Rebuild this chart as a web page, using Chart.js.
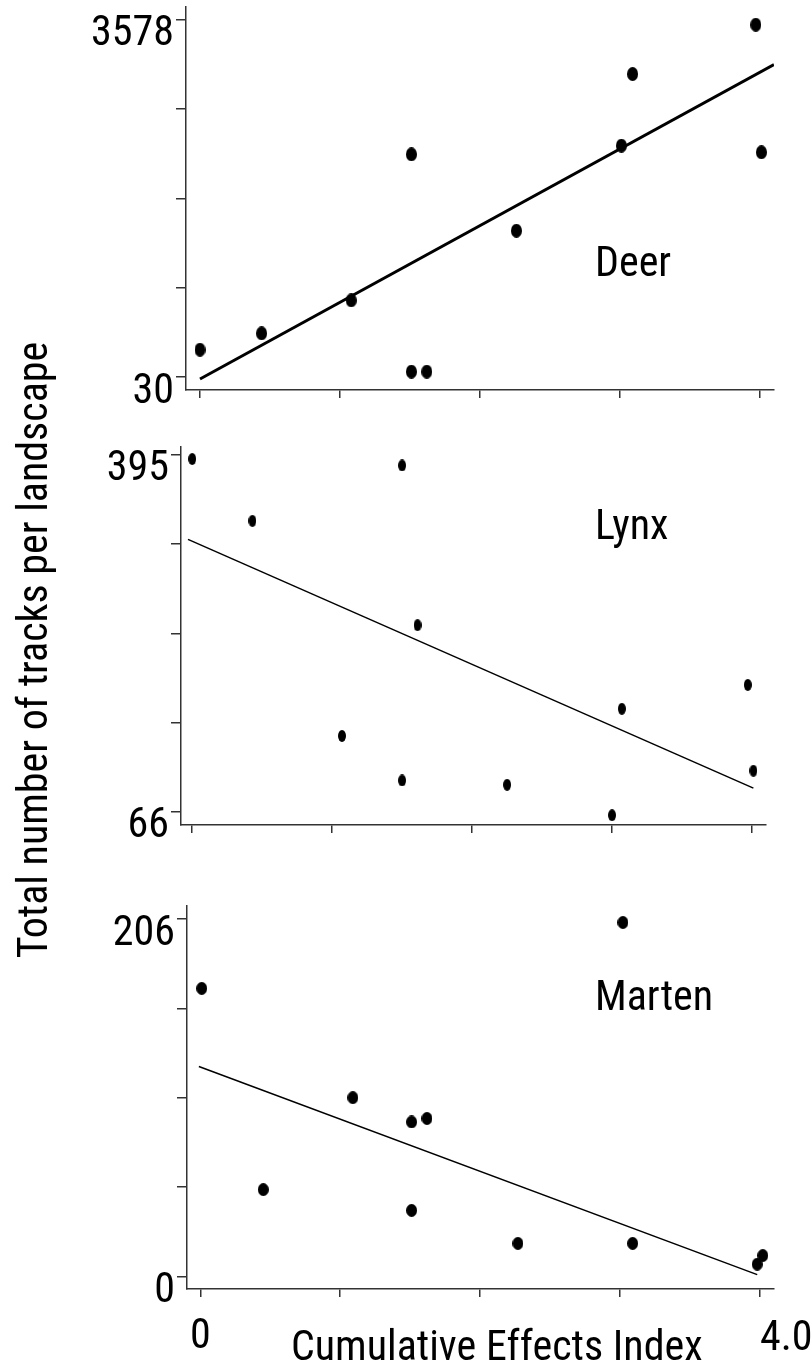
<!DOCTYPE html>
<html>
<head>
<meta charset="utf-8">
<script src="https://cdn.jsdelivr.net/npm/chart.js@4"></script>
<style>
body{margin:0;background:#fff;width:812px;height:1372px;position:relative;overflow:hidden;}
canvas{position:absolute;left:0;}
#ytitle{position:absolute;left:-292px;top:625px;width:650px;height:50px;line-height:50px;text-align:center;
  font-family:'Roboto Condensed',sans-serif;font-size:42px;color:#000;
  transform:rotate(-90deg);white-space:nowrap;}
</style>
</head>
<body>
<canvas id="deer" style="top:0" width="812" height="420"></canvas>
<canvas id="lynx" style="top:420px" width="812" height="440"></canvas>
<canvas id="marten" style="top:860px" width="812" height="512"></canvas>
<div id="ytitle">Total number of tracks per landscape</div>
<script>
// cumulative effects index ticks
var xTicks = [0, 1, 2, 3, 4];

// deer
var deerX = [0.0, 0.44, 1.08, 1.51, 1.51, 1.62, 2.26, 3.01, 3.09, 3.97, 4.01];
var deerY = [301, 464, 792, 2243, 83, 83, 1484, 2329, 3041, 3531, 2263];
var deerFitX = [0, 4.1];
var deerFitY = [10, 3134];
var deerTicks = [30, 917, 1804, 2691, 3578];

// lynx
var lynxX = [0.0, 0.43, 1.07, 1.50, 1.50, 1.61, 2.25, 3.0, 3.07, 3.97, 4.01];
var lynxY = [391, 334, 136, 385, 95, 238, 91, 63, 161, 183, 104];
var lynxFitX = [-0.03, 4.01];
var lynxFitY = [317, 88];
var lynxTicks = [66, 148.25, 230.5, 312.75, 395];

// marten
var martenX = [0.01, 0.45, 1.09, 1.51, 1.51, 1.62, 2.27, 3.02, 3.09, 3.98, 4.02];
var martenY = [166, 50, 103, 89, 38, 91, 19, 204, 19, 7, 12];
var martenFitX = [-0.01, 3.98];
var martenFitY = [121, 1];
var martenTicks = [0, 51.5, 103, 154.5, 206];

var fontFam = "'Roboto Condensed', sans-serif";

// draws free text (panel names, x labels) on top of a chart
function notes(items) {
    return {
        id: 'notes',
        afterDraw: function(chart) {
            var ctx = chart.ctx;
            ctx.save();
            ctx.fillStyle = '#000';
            ctx.textBaseline = 'alphabetic';
            items.forEach(function(it) {
                ctx.font = '42px ' + fontFam;
                ctx.textAlign = it.align || 'left';
                var px = (it.at !== undefined) ? chart.scales.x.getPixelForValue(it.at) : it.px;
                ctx.fillText(it.text, px, it.py);
            });
            ctx.restore();
        }
    };
}

function dot(w, h) {
    var c = document.createElement('canvas');
    c.width = w; c.height = h;
    var g = c.getContext('2d');
    g.fillStyle = '#000';
    g.beginPath();
    g.ellipse(w / 2, h / 2, w / 2, h / 2, 0, 0, Math.PI * 2);
    g.fill();
    return c;
}

function pts(xs, ys) {
    return xs.map(function(x, i) { return {x: x, y: ys[i]}; });
}

function panel(id, p) {
    var ctx = document.getElementById(id).getContext('2d');
    return new Chart(ctx, {
        type: 'scatter',
        data: {
            datasets: [{
                data: pts(p.x, p.y),
                pointStyle: dot(p.dotW, p.dotH),
                pointRadius: 5,
                pointHoverRadius: 5,
                showLine: false
            }, {
                data: pts(p.fitX, p.fitY),
                showLine: true,
                borderColor: '#000',
                borderWidth: p.lineW,
                pointRadius: 0,
                fill: false
            }]
        },
        options: {
            responsive: false,
            animation: false,
            layout: {padding: {left: 0, top: p.top, right: p.right, bottom: 0}},
            plugins: {
                legend: {display: false},
                tooltip: {enabled: false}
            },
            scales: {
                x: {
                    type: 'linear',
                    min: p.xMin,
                    max: p.xMax,
                    afterBuildTicks: function(s) { s.ticks = xTicks.map(function(v) { return {value: v}; }); },
                    afterFit: function(s) { s.height = p.xH; s.paddingLeft = 0; s.paddingRight = 0; },
                    ticks: {display: false},
                    border: {display: true, color: '#333', width: 1.5},
                    grid: {drawOnChartArea: false, drawTicks: true, tickLength: 8, color: '#333', lineWidth: 1.5}
                },
                y: {
                    type: 'linear',
                    min: p.yMin,
                    max: p.yMax,
                    afterBuildTicks: function(s) { s.ticks = p.ticks.map(function(v) { return {value: v}; }); },
                    afterFit: function(s) { s.width = p.yW; s.paddingTop = 0; s.paddingBottom = 0; },
                    ticks: {
                        color: '#000',
                        padding: 2,
                        labelOffset: 15,
                        font: {family: fontFam, size: 42},
                        callback: function(v, i, t) {
                            return (i === 0 || i === t.length - 1) ? String(v) : '';
                        }
                    },
                    border: {display: true, color: '#333', width: 1.5},
                    grid: {drawOnChartArea: false, drawTicks: true, tickLength: 10, color: '#333', lineWidth: 1.5}
                }
            }
        },
        plugins: [notes(p.notes)]
    });
}

panel('deer', {
    x: deerX, y: deerY, fitX: deerFitX, fitY: deerFitY, ticks: deerTicks,
    xMin: -0.1, xMax: 4.1, yMin: -99, yMax: 3707,
    top: 7, right: 38, yW: 186, xH: 30,
    dotW: 11, dotH: 14, lineW: 3,
    notes: [{text: 'Deer', px: 595, py: 276}]
});

panel('lynx', {
    x: lynxX, y: lynxY, fitX: lynxFitX, fitY: lynxFitY, ticks: lynxTicks,
    xMin: -0.08, xMax: 4.1, yMin: 54, yMax: 402,
    top: 27, right: 46, yW: 181, xH: 35,
    dotW: 8, dotH: 12, lineW: 1.5,
    notes: [{text: 'Lynx', px: 595, py: 119}]
});

panel('marten', {
    x: martenX, y: martenY, fitX: martenFitX, fitY: martenFitY, ticks: martenTicks,
    xMin: -0.095, xMax: 4.1, yMin: -7.3, yMax: 213.5,
    top: 46, right: 38, yW: 187, xH: 83,
    dotW: 11, dotH: 13, lineW: 1.5,
    notes: [
        {text: 'Marten', px: 595, py: 150},
        {text: '0', at: 0, align: 'center', py: 488},
        {text: '4.0', at: 4, align: 'left', py: 490},
        {text: 'Cumulative Effects Index', px: 291, py: 500}
    ]
});
</script>
</body>
</html>
